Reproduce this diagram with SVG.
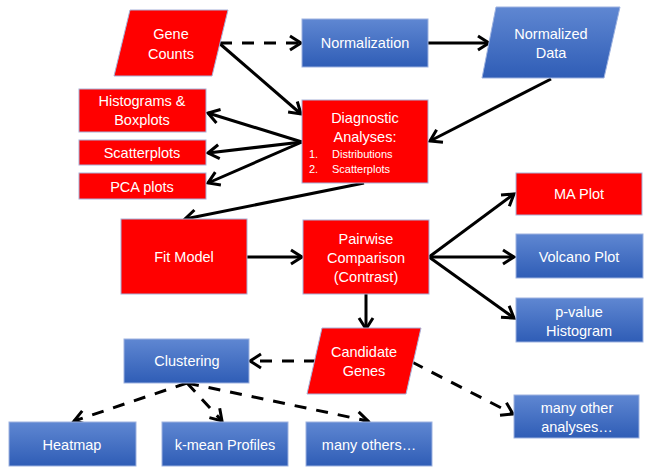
<svg xmlns="http://www.w3.org/2000/svg" width="652" height="475" viewBox="0 0 652 475">
<defs>
<linearGradient id="blue" x1="0" y1="0" x2="0" y2="1">
<stop offset="0" stop-color="#5f87d2"/>
<stop offset="1" stop-color="#2f5db6"/>
</linearGradient>
<marker id="arr" markerUnits="userSpaceOnUse" markerWidth="18" markerHeight="18" refX="14" refY="9" orient="auto" overflow="visible">
<path d="M3,2 L14,9 L3,16" fill="none" stroke="#000" stroke-width="3"/>
</marker>
<style>
.red{fill:#ff0000;stroke:#a7b1d8;stroke-width:1}
.blu{fill:url(#blue);stroke:#9db2e0;stroke-width:1}
text{font-family:"Liberation Sans",Arial,sans-serif;font-size:14.5px;fill:#fff;text-anchor:middle}
.sm{font-size:11px;text-anchor:start}
.ln{fill:none;stroke:#000;stroke-width:3;marker-end:url(#arr)}
.ds{stroke-dasharray:12 10}
</style>
</defs>
<rect width="652" height="475" fill="#fff"/>
<g id="connectors">
<line class="ln ds" x1="220" y1="43" x2="301" y2="43"/>
<line class="ln" x1="219" y1="43" x2="301" y2="114"/>
<line class="ln" x1="428" y1="43" x2="489" y2="43"/>
<line class="ln" x1="551" y1="79" x2="430" y2="141"/>
<line class="ln" x1="302" y1="142" x2="208" y2="113"/>
<line class="ln" x1="302" y1="142" x2="208" y2="153"/>
<line class="ln" x1="302" y1="142" x2="208" y2="183"/>
<line class="ln" x1="364" y1="183" x2="185" y2="219"/>
<line class="ln" x1="247" y1="257" x2="302" y2="257"/>
<line class="ln" x1="429" y1="257" x2="514" y2="194"/>
<line class="ln" x1="429" y1="257" x2="514" y2="257"/>
<line class="ln" x1="429" y1="257" x2="514" y2="318"/>
<line class="ln" x1="366" y1="294" x2="366" y2="329"/>
<line class="ln ds" x1="316" y1="361" x2="250" y2="361"/>
<line class="ln ds" x1="412" y1="362" x2="513" y2="414"/>
<line class="ln ds" x1="187" y1="383" x2="74" y2="421"/>
<line class="ln ds" x1="187" y1="383" x2="222" y2="421"/>
<line class="ln ds" x1="187" y1="383" x2="368" y2="421"/>
</g>
<g id="gene-counts">
<polygon class="red" points="130,10 228,10 212,76 114,76"/>
<text x="171" y="39">Gene</text>
<text x="171" y="59">Counts</text>
</g>
<g id="normalization">
<rect class="blu" x="302" y="19" width="126" height="48"/>
<text x="365" y="48">Normalization</text>
</g>
<g id="normalized-data">
<polygon class="blu" points="496,7 620,7 604,78 482,78"/>
<text x="551" y="39">Normalized</text>
<text x="551" y="58">Data</text>
</g>
<g id="histograms">
<rect class="red" x="79" y="89" width="127" height="43"/>
<text x="142" y="106">Histograms &amp;</text>
<text x="142" y="125">Boxplots</text>
</g>
<g id="scatterplots">
<rect class="red" x="79" y="140" width="127" height="25"/>
<text x="142" y="158">Scatterplots</text>
</g>
<g id="pca-plots">
<rect class="red" x="79" y="173" width="127" height="26"/>
<text x="142" y="192">PCA plots</text>
</g>
<g id="diagnostic">
<rect class="red" x="302" y="100" width="126" height="83"/>
<text x="365" y="123">Diagnostic</text>
<text x="365" y="142">Analyses:</text>
<text class="sm" x="309" y="158">1.</text>
<text class="sm" x="332" y="158">Distributions</text>
<text class="sm" x="309" y="173">2.</text>
<text class="sm" x="332" y="173">Scatterplots</text>
</g>
<g id="fit-model">
<rect class="red" x="121" y="219" width="126" height="75"/>
<text x="184" y="262">Fit Model</text>
</g>
<g id="pairwise">
<rect class="red" x="303" y="220" width="126" height="74"/>
<text x="366" y="244">Pairwise</text>
<text x="366" y="263">Comparison</text>
<text x="366" y="282">(Contrast)</text>
</g>
<g id="ma-plot">
<rect class="red" x="516" y="173" width="126" height="42"/>
<text x="579" y="199">MA Plot</text>
</g>
<g id="volcano-plot">
<rect class="blu" x="516" y="234" width="127" height="44"/>
<text x="579" y="262">Volcano Plot</text>
</g>
<g id="p-value-histogram">
<rect class="blu" x="516" y="298" width="127" height="44"/>
<text x="579" y="317">p-value</text>
<text x="579" y="336">Histogram</text>
</g>
<g id="candidate-genes">
<polygon class="red" points="322,328 421,328 406,394 307,394"/>
<text x="364" y="357">Candidate</text>
<text x="364" y="376">Genes</text>
</g>
<g id="clustering">
<rect class="blu" x="124" y="339" width="125" height="44"/>
<text x="187" y="366">Clustering</text>
</g>
<g id="many-other-analyses">
<rect class="blu" x="514" y="395" width="125" height="43"/>
<text x="577" y="413">many other</text>
<text x="577" y="432">analyses…</text>
</g>
<g id="heatmap">
<rect class="blu" x="9" y="422" width="127" height="44"/>
<text x="72" y="450">Heatmap</text>
</g>
<g id="k-mean-profiles">
<rect class="blu" x="162" y="422" width="126" height="44"/>
<text x="225" y="450">k-mean Profiles</text>
</g>
<g id="many-others">
<rect class="blu" x="306" y="422" width="126" height="44"/>
<text x="369" y="450">many others…</text>
</g>
</svg>
